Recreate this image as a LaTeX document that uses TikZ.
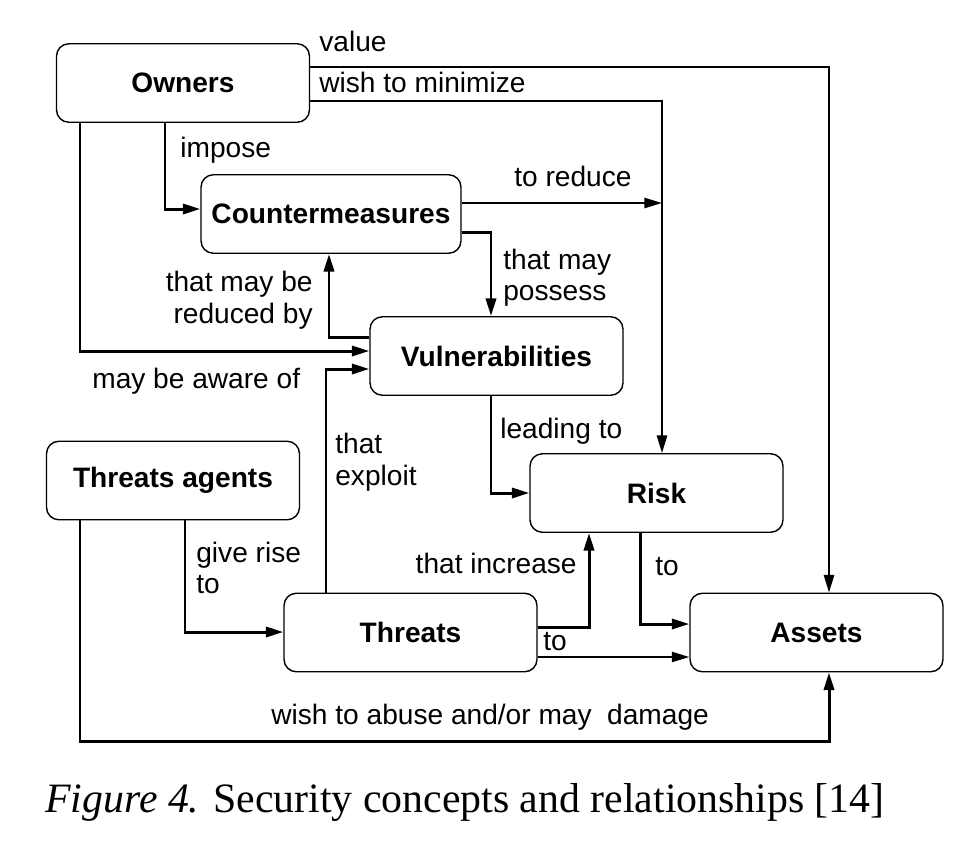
\documentclass[tikz,border=0pt]{standalone}
\usepackage{fontspec}
\setmainfont{Liberation Serif}
\newfontfamily\arial{Liberation Sans}
\usetikzlibrary{arrows.meta}
\begin{document}
\begin{tikzpicture}[x=0.02cm,y=-0.02cm,
  box/.style={draw,line width=0.8pt,rounded corners=7pt,minimum width=5.06cm,minimum height=1.57cm,inner sep=0pt,font=\arial\fontsize{16}{19}\selectfont\bfseries},
  lab/.style={font=\arial\fontsize{16}{19}\selectfont,inner sep=0pt,anchor=base west},
  labr/.style={font=\arial\fontsize{16}{19}\selectfont,inner sep=0pt,anchor=base east},
  tip/.style={-{Triangle[length=10pt,width=5.8pt]}},
  thk/.style={tip,line width=1.7pt},
  thn/.style={tip,line width=1.1pt}]
\useasboundingbox (0,0) rectangle (977,846);
\node[box] (own) at (183,83) {Owners};
\node[box,minimum width=5.2cm] (cm) at (331,214) {Countermeasures};
\node[box] (vul) at (496.5,356) {Vulnerabilities};
\node[box] (ta) at (173,480.5) {Threats agents};
\node[box] (risk) at (656.5,493) {Risk};
\node[box] (thr) at (410.5,632.5) {Threats};
\node[box] (ast) at (816.5,632.5) {Assets};
\coordinate (rd) at (662,203);
\coordinate (bot) at (80,741);
% connectors
\draw[thn] (own.east |- 0,67) -| (ast.north -| 829,0);
\draw[thn] (own.east |- 0,101) -| (risk.north -| 662,0);
\draw[thk] (own.south -| 165,0) |- (cm.west |- 0,209);
\draw[thn] (cm.east |- 0,203) -- (rd);
\draw[thk] (cm.east |- 0,232) -| (vul.north -| 491,0);
\draw[thk] (vul.west |- 0,337) -| (cm.south -| 329,0);
\draw[thk] (own.south -| 80,0) |- (vul.west |- 0,351);
\draw[thk] (thr.north -| 326,0) |- (vul.west |- 0,369);
\draw[thk] (vul.south -| 491,0) |- (risk.west |- 0,493);
\draw[thk] (ta.south -| 185,0) |- (thr.west |- 0,632);
\draw[thk] (thr.east |- 0,627) -| (risk.south -| 589,0);
\draw[thn] (thr.east |- 0,657) -- (ast.west |- 0,657);
\draw[thk] (risk.south -| 640,0) |- (ast.west |- 0,624);
\draw[thk] (ta.south -| 80,0) -- (bot) -| (ast.south -| 829,0);
% labels
\node[lab] (l1) at (319,51) {value};
\node[lab] (l2) at (319,92) {wish to minimize};
\node[lab] (l3) at (180,157) {impose};
\node[lab] (l4) at (514,186) {to reduce};
\node[lab] (l5) at (503,269) {that may};
\node[lab] (l6) at (503,300) {possess};
\node[labr] (l7) at (313,291) {that may be};
\node[labr] (l8) at (313,323) {reduced by};
\node[lab] (l9) at (92,388) {may be aware of};
\node[lab] (l10) at (335,453) {that};
\node[lab] (l11) at (335,485) {exploit};
\node[lab] (l12) at (500,438) {leading to};
\node[lab] (l13) at (196,562) {give rise};
\node[lab] (l14) at (196,593) {to};
\node[labr] (l15) at (577,573) {that increase};
\node[lab] (l16) at (655,575) {to};
\node[lab] (l17) at (543,650) {to};
\node[lab] (l18) at (271,724) {wish to abuse and/or may\ \ damage};
\node[anchor=base west,inner sep=0pt,font=\fontsize{23.8}{28}\selectfont] (cap) at (45,812) {\textit{Figure 4.} Security concepts and relationships [14]};
\end{tikzpicture}
\end{document}
